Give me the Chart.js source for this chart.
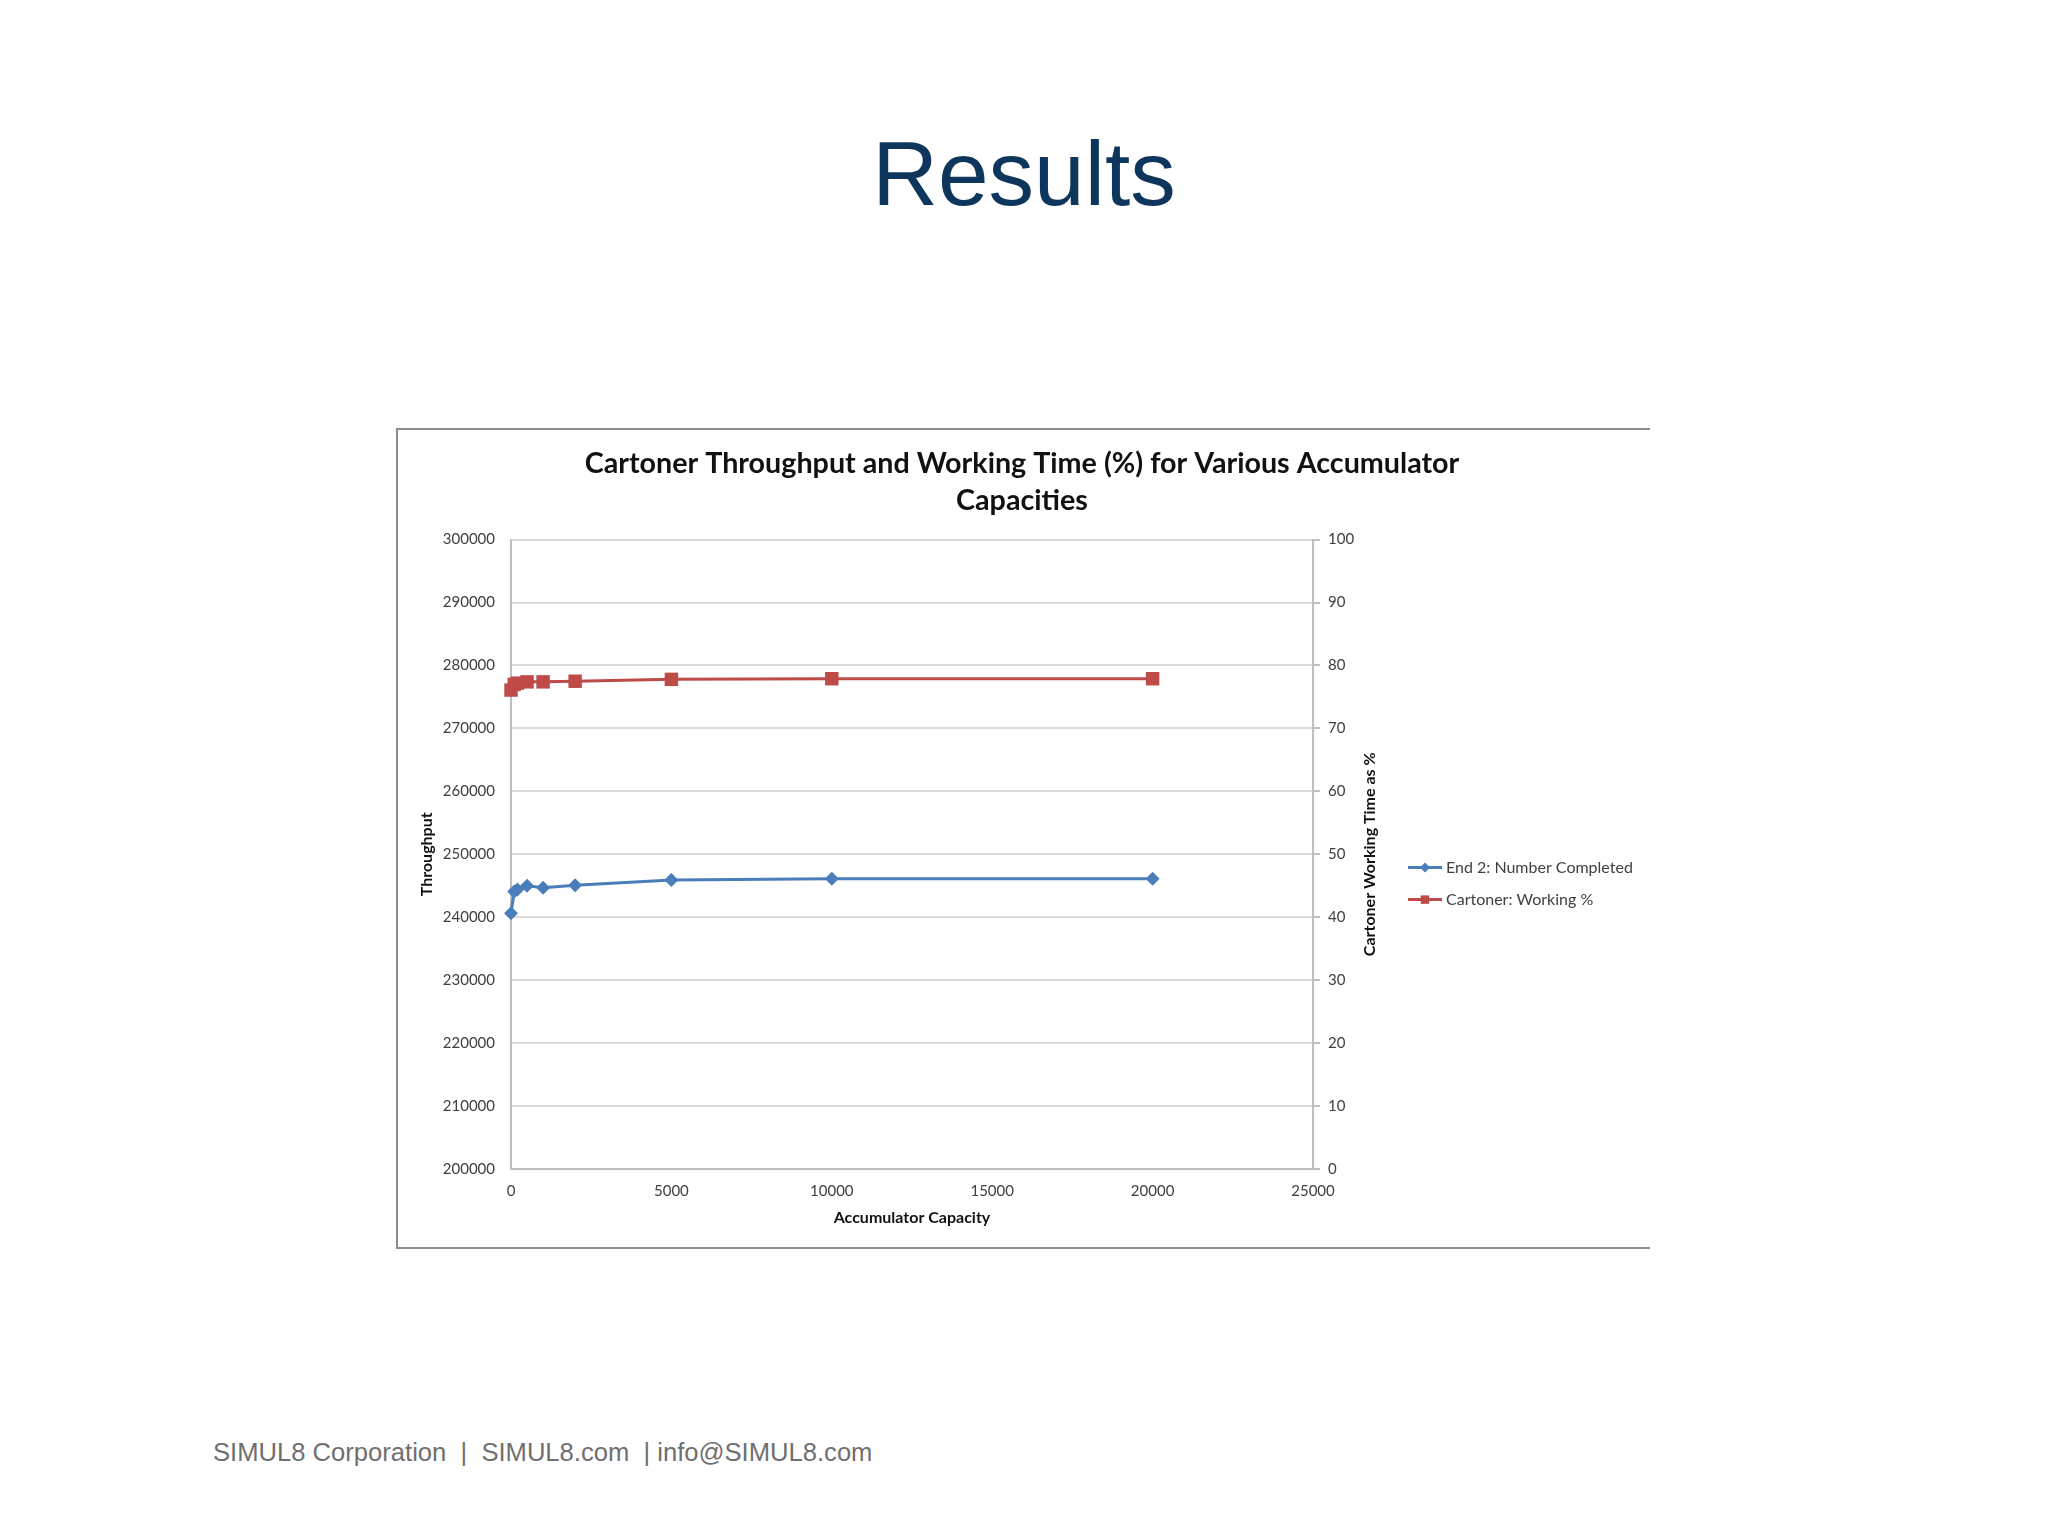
<!DOCTYPE html>
<html>
<head>
<meta charset="utf-8">
<script src="https://cdn.jsdelivr.net/npm/chart.js@4/dist/chart.umd.min.js"></script>
<style>
  html, body { margin: 0; padding: 0; background: #ffffff; }
  body { width: 2048px; height: 1536px; position: relative; overflow: hidden; }
  #heading {
    position: absolute; left: 0; width: 2048px; top: 122px;
    text-align: center; font-family: "Liberation Sans", Arial, sans-serif;
    font-size: 91px; color: #0e355c;
  }
  #box {
    position: absolute; left: 396px; top: 428px; width: 1252px; height: 817px;
    border-top: 2px solid #8c8c8c; border-left: 2px solid #8c8c8c; border-bottom: 2px solid #8c8c8c;
  }
  #wrap { position: absolute; left: 396px; top: 428px; width: 1252px; height: 819px; }
  #footer {
    position: absolute; left: 213px; top: 1438px;
    font-family: "Liberation Sans", Arial, sans-serif; font-size: 25.6px; color: #6f6f6f;
    white-space: pre;
  }
</style>
</head>
<body>
<div id="heading">Results</div>
<div id="box"></div>
<div id="wrap"><canvas id="chart"></canvas></div>
<div id="footer">SIMUL8 Corporation  |  SIMUL8.com  | info@SIMUL8.com</div>

<script>
// values
const capacities = [0, 100, 200, 500, 1000, 2000, 5000, 10000, 20000];
const throughput = [240650, 244100, 244400, 245000, 244700, 245100, 245900, 246100, 246100];
const workingPct = [76.1, 77.0, 77.2, 77.4, 77.4, 77.5, 77.8, 77.9, 77.9];
const seriesNames = ['End 2: Number Completed', 'Cartoner: Working %'];
const chartTitle = ['Cartoner Throughput and Working Time (%) for Various Accumulator', 'Capacities'];
const rightTitle = 'Cartoner Working Time as %';

const blue = '#4a7ebb';
const red = '#be4b48';
const gridCol = '#d9d9d9';
const axisCol = '#bfbfbf';
const textCol = '#404040';
const fontName = 'Lato, "Open Sans", sans-serif';

function pairs(xs, ys) {
    return xs.map((x, i) => ({x: x, y: ys[i]}));
}

// legend beside the plot like the excel one (line + marker + text),
// plus the right axis title which reads bottom to top
const sideLegend = {
    id: 'sideLegend',
    afterDraw(chart) {
        const ctx = chart.ctx;
        const area = chart.chartArea;
        const x0 = area.right + 95;
        const rows = [
            {name: seriesNames[0], color: blue, style: 'rectRot', r: 5, y: area.top + 328},
            {name: seriesNames[1], color: red, style: 'rect', r: 6, y: area.top + 360}
        ];
        ctx.save();
        rows.forEach(row => {
            ctx.strokeStyle = row.color;
            ctx.lineWidth = 3;
            ctx.beginPath();
            ctx.moveTo(x0, row.y);
            ctx.lineTo(x0 + 34, row.y);
            ctx.stroke();
            ctx.fillStyle = row.color;
            Chart.helpers.drawPoint(ctx, {pointStyle: row.style, radius: row.r, rotation: 0, borderWidth: 0}, x0 + 17, row.y);
            ctx.fillStyle = textCol;
            ctx.font = '16px ' + fontName;
            ctx.textAlign = 'left';
            ctx.textBaseline = 'middle';
            ctx.fillText(row.name, x0 + 38, row.y);
        });

        ctx.translate(area.right + 57, (area.top + area.bottom) / 2);
        ctx.rotate(-Math.PI / 2);
        ctx.fillStyle = '#111111';
        ctx.font = 'bold 16px ' + fontName;
        ctx.textAlign = 'center';
        ctx.textBaseline = 'middle';
        ctx.fillText(rightTitle, 0, 0);
        ctx.restore();
    }
};

const ctx = document.getElementById('chart').getContext('2d');
const chart = new Chart(ctx, {
    type: 'line',
    data: {
        datasets: [{
            label: seriesNames[0],
            data: pairs(capacities, throughput),
            yAxisID: 'y',
            borderColor: blue,
            backgroundColor: blue,
            borderWidth: 3,
            pointStyle: 'rectRot',
            pointRadius: 7,
            pointBorderWidth: 0,
            clip: false
        }, {
            label: seriesNames[1],
            data: pairs(capacities, workingPct),
            yAxisID: 'y1',
            borderColor: red,
            backgroundColor: red,
            borderWidth: 3,
            pointStyle: 'rect',
            pointRadius: 9.5,
            pointBorderWidth: 0,
            clip: false
        }]
    },
    options: {
        responsive: true,
        maintainAspectRatio: false,
        animation: false,
        layout: {padding: 0},
        plugins: {
            legend: {display: false},
            tooltip: {enabled: false},
            title: {
                display: true,
                text: chartTitle,
                color: '#111111',
                font: {family: fontName, size: 28.7, weight: 'bold', lineHeight: 1.3},
                padding: {top: 17, bottom: 20}
            }
        },
        scales: {
            x: {
                type: 'linear',
                min: 0,
                max: 25000,
                ticks: {
                    stepSize: 5000,
                    color: textCol,
                    font: {family: fontName, size: 15},
                    padding: 13,
                    maxRotation: 0,
                    callback: v => String(v)
                },
                grid: {display: false, drawTicks: false},
                border: {display: true, color: axisCol, width: 2},
                title: {
                    display: true,
                    text: 'Accumulator Capacity',
                    color: '#111111',
                    font: {family: fontName, size: 16, weight: 'bold'},
                    padding: {top: 0, bottom: 20}
                },
                afterFit: s => { s.height = 78; }
            },
            y: {
                type: 'linear',
                position: 'left',
                min: 200000,
                max: 300000,
                ticks: {
                    stepSize: 10000,
                    color: textCol,
                    font: {family: fontName, size: 15},
                    padding: 16,
                    callback: v => String(v)
                },
                grid: {color: gridCol, lineWidth: 2, drawTicks: false},
                border: {display: true, color: axisCol, width: 2},
                title: {
                    display: true,
                    text: 'Throughput',
                    color: '#111111',
                    font: {family: fontName, size: 16, weight: 'bold'},
                    padding: {top: 21, bottom: 0}
                },
                afterFit: s => { s.width = 115; }
            },
            y1: {
                type: 'linear',
                position: 'right',
                min: 0,
                max: 100,
                ticks: {
                    stepSize: 10,
                    color: textCol,
                    font: {family: fontName, size: 15},
                    padding: 8
                },
                grid: {drawOnChartArea: false, drawTicks: true, tickLength: 7, color: axisCol, lineWidth: 2},
                border: {display: true, color: axisCol, width: 2},
                title: {display: false},
                afterFit: s => { s.width = 335; }
            }
        }
    },
    plugins: [sideLegend]
});
</script>
</body>
</html>
